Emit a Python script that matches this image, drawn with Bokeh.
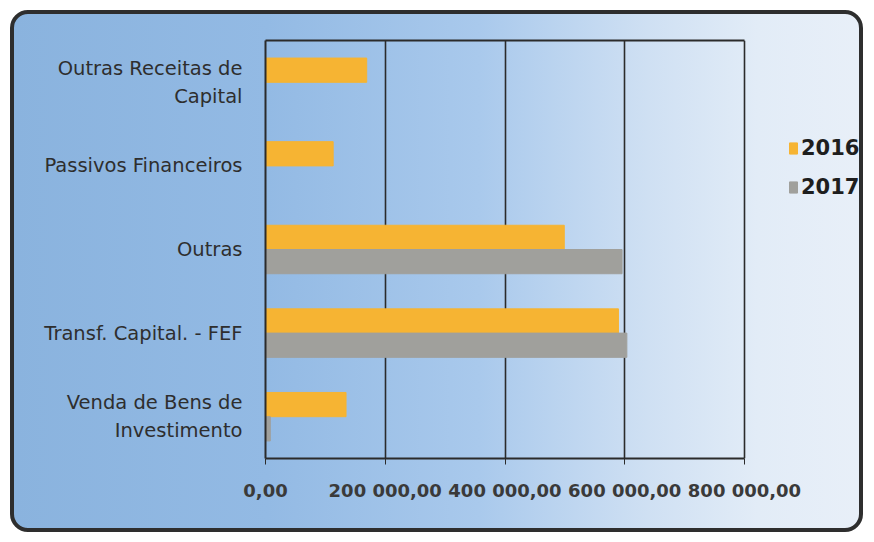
from bokeh.plotting import figure
from bokeh.models import (ColumnDataSource, FactorRange, Range1d, Legend, LegendItem,
                          FixedTicker, LinearAxis)
from bokeh.transform import dodge
from bokeh.embed import file_html
from bokeh.resources import INLINE

# ---- data ----
categories = ["Outras Receitas de\nCapital", "Passivos Financeiros", "Outras",
              "Transf. Capital. - FEF", "Venda de Bens de\nInvestimento"]
values_2016 = [169000, 113000, 499000, 589500, 134500]
values_2017 = [0, 0, 595500, 603500, 8000]
series_names = ["2016", "2017"]
x_ticks = [0, 200000, 400000, 600000, 800000]
x_tick_labels = ["0,00", "200 000,00", "400 000,00", "600 000,00", "800 000,00"]

ORANGE = "#f6b433"
GRAY = "#a0a09c"
DARK = "#2b2b2b"

W, H = 853, 522
LEFT, AXIS_W = 251, 479          # plot-area left edge and width of the 0..800k span (px)
x_end = x_ticks[-1] * (W - LEFT) / AXIS_W   # frame runs on to the right edge (legend area)

factors_bottom_up = list(reversed(categories))

p = figure(y_range=FactorRange(factors=factors_bottom_up), x_range=Range1d(0, x_end),
           width=W, height=H, output_backend="svg", toolbar_location=None,
           min_border_left=LEFT, min_border_right=0, min_border_top=26, min_border_bottom=78)
p.styles = {
    "margin-left": "10px", "margin-top": "10px",
    "border": "4px solid #2e2e2e", "border-radius": "18px", "overflow": "hidden",
    "background": "linear-gradient(to right, #8ab3de 0%, #93bae4 30%, #a9c9ec 55%, #cfe0f3 75%, #e2ecf7 88%, #e8eff8 100%)",
}
p.border_fill_color = None
p.background_fill_color = None
p.outline_line_color = None

src = ColumnDataSource(dict(cat=categories, v2016=values_2016, v2017=values_2017))
r1 = p.hbar(y=dodge("cat", 0.145, range=p.y_range), right="v2016", height=0.29,
            color=ORANGE, source=src)
r2 = p.hbar(y=dodge("cat", -0.145, range=p.y_range), right="v2017", height=0.29,
            color=GRAY, source=src)

p.xgrid.ticker = FixedTicker(ticks=x_ticks)
p.xgrid.grid_line_color = DARK
p.xgrid.grid_line_width = 1.6
p.ygrid.grid_line_color = None

p.xaxis.bounds = (x_ticks[0], x_ticks[-1])
p.xaxis.ticker = FixedTicker(ticks=x_ticks)
p.xaxis.major_label_overrides = dict(zip(x_ticks, x_tick_labels))
p.xaxis.axis_line_color = DARK
p.xaxis.axis_line_width = 2
p.xaxis.major_tick_line_color = DARK
p.xaxis.major_tick_out = 6
p.xaxis.major_tick_in = 0
p.xaxis.minor_tick_line_color = None
p.xaxis.major_label_standoff = 15
p.xaxis.major_label_text_font = "DejaVu Sans"
p.xaxis.major_label_text_font_style = "bold"
p.xaxis.major_label_text_font_size = "18px"
p.xaxis.major_label_text_color = "#3a3a3a"

# top border of the plot area (0 .. 800 000)
top = LinearAxis(bounds=(x_ticks[0], x_ticks[-1]), ticker=FixedTicker(ticks=[]),
                 axis_line_color=DARK, axis_line_width=2,
                 major_tick_line_color=None, minor_tick_line_color=None)
p.add_layout(top, "above")

p.yaxis.axis_line_color = DARK
p.yaxis.axis_line_width = 2
p.yaxis.major_tick_line_color = None
p.yaxis.minor_tick_line_color = None
p.yaxis.major_label_standoff = 17
p.yaxis.major_label_text_font = "DejaVu Sans"
p.yaxis.major_label_text_font_size = "19.5px"
p.yaxis.major_label_text_color = "#2e2e2e"

legend = Legend(items=[LegendItem(label=series_names[0], renderers=[r1]),
                       LegendItem(label=series_names[1], renderers=[r2])],
                location=(523, 259), padding=0, margin=0, spacing=15,
                glyph_width=10, glyph_height=14, label_standoff=3,
                label_text_font="DejaVu Sans", label_text_font_style="bold",
                label_text_font_size="21px", label_text_color="#1e1e1e",
                background_fill_color=None, border_line_color=None)
p.add_layout(legend, "center")

open("out.html", "w").write(file_html(p, INLINE))
